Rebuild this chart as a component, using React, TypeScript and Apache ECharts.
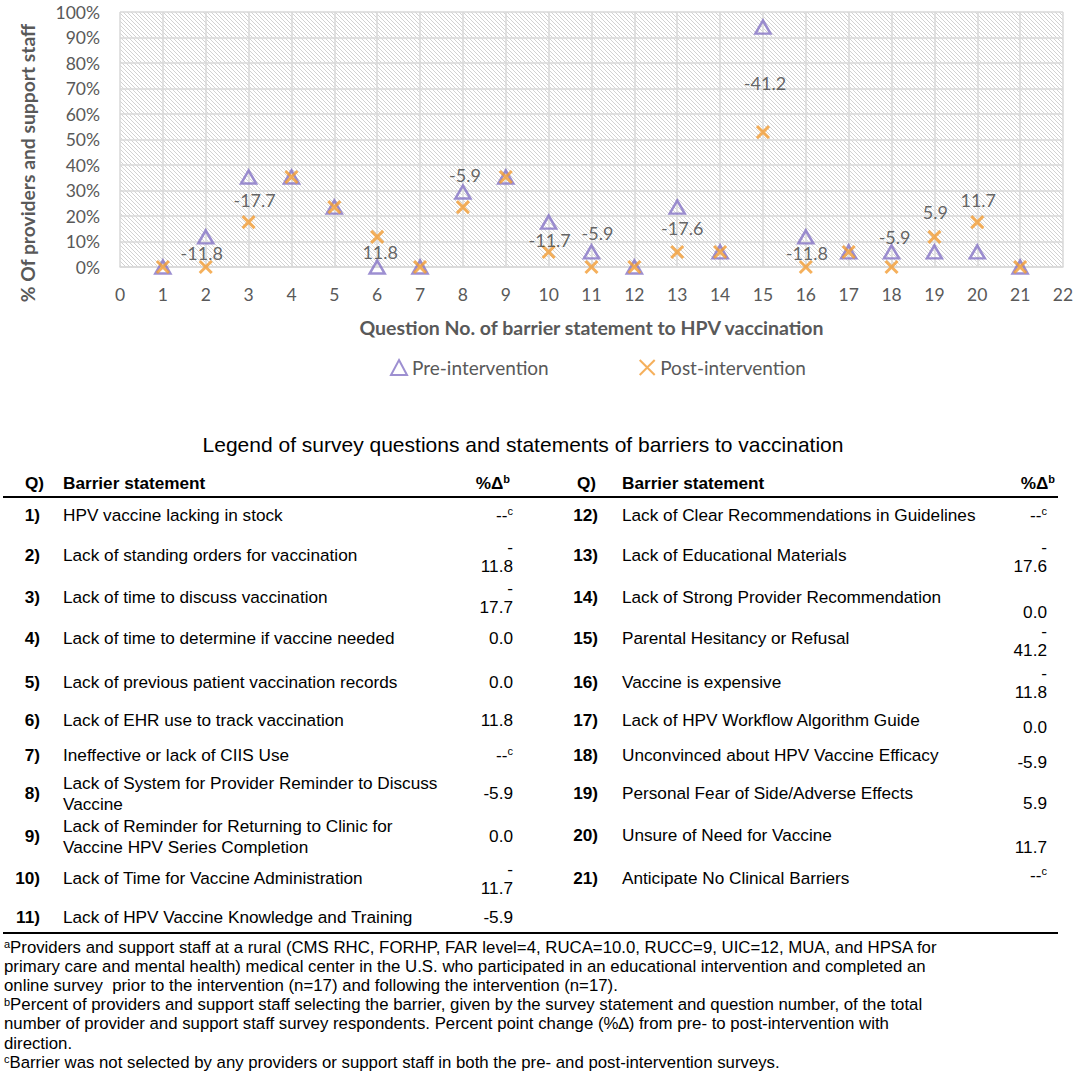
import React, { useEffect, useRef } from "react";
import * as echarts from "echarts";

// ---------------- DATA ----------------
const questionNos = [1, 2, 3, 4, 5, 6, 7, 8, 9, 10, 11, 12, 13, 14, 15, 16, 17, 18, 19, 20, 21];
const prePct = [0, 11.8, 35.3, 35.3, 23.5, 0, 0, 29.4, 35.3, 17.6, 5.9, 0, 23.5, 5.9, 94.1, 11.8, 5.9, 5.9, 5.9, 5.9, 0];
const postPct = [0, 0, 17.6, 35.3, 23.5, 11.8, 0, 23.5, 35.3, 5.9, 0, 0, 5.9, 5.9, 52.9, 0, 5.9, 0, 11.8, 17.6, 0];
// percent point change (null = not selected in either survey)
const pctChange = [null, -11.8, -17.7, 0, 0, 11.8, null, -5.9, 0, -11.7, -5.9, null, -17.6, 0, -41.2, -11.8, 0, -5.9, 5.9, 11.7, null];
const barrierStatements = [
  "HPV vaccine lacking in stock",
  "Lack of standing orders for vaccination",
  "Lack of time to discuss vaccination",
  "Lack of time to determine if vaccine needed",
  "Lack of previous patient vaccination records",
  "Lack of EHR use to track vaccination",
  "Ineffective or lack of CIIS Use",
  "Lack of System for Provider Reminder to Discuss\nVaccine",
  "Lack of Reminder for Returning to Clinic for\nVaccine HPV Series Completion",
  "Lack of Time for Vaccine Administration",
  "Lack of HPV Vaccine Knowledge and Training",
  "Lack of Clear Recommendations in Guidelines",
  "Lack of Educational Materials",
  "Lack of Strong Provider Recommendation",
  "Parental Hesitancy or Refusal",
  "Vaccine is expensive",
  "Lack of HPV Workflow Algorithm Guide",
  "Unconvinced about HPV Vaccine Efficacy",
  "Personal Fear of Side/Adverse Effects",
  "Unsure of Need for Vaccine",
  "Anticipate No Clinical Barriers",
];
const seriesNames = ["Pre-intervention", "Post-intervention"];
const xAxisTitle = "Question No. of barrier statement to HPV vaccination";
const yAxisTitle = "% Of providers and support staff";
const tableTitle = "Legend of survey questions and statements of barriers to vaccination";
const tableHeaders = ["Q)", "Barrier statement", "%Δ{sup|b}"];
const footnoteLines = [
  "{sup|a}Providers and support staff at a rural (CMS RHC, FORHP, FAR level=4, RUCA=10.0, RUCC=9, UIC=12, MUA, and HPSA for",
  "primary care and mental health) medical center in the U.S. who participated in an educational intervention and completed an",
  "online survey  prior to the intervention (n=17) and following the intervention (n=17).",
  "{sup|b}Percent of providers and support staff selecting the barrier, given by the survey statement and question number, of the total",
  "number of provider and support staff survey respondents. Percent point change (%∆) from pre- to post-intervention with",
  "direction.",
  "{sup|c}Barrier was not selected by any providers or support staff in both the pre- and post-intervention surveys.",
];

// ---------------- LAYOUT / STYLE ----------------
const GRID = { left: 120, top: 12, width: 943, height: 255 };
const HATCH_STEP = 4;
const PURPLE = "#8573c6";
const ORANGE = "#f39c33";
const AXIS_TEXT = "#595959";
const CHART_FONT = "Lato, 'Noto Sans', sans-serif";
const TABLE_FONT = "'Liberation Sans', Arial, sans-serif";
const TABLE_SIZE = 17.2;
const FOOT_SIZE = 16.8;
// pixel offsets of the change labels relative to the post-intervention marker
const LABEL_OFFSETS: Record<number, [number, number]> = {
  2: [-4, -14], 3: [6, -22], 6: [3, 15], 8: [2, -32], 10: [1, -12], 11: [6, -34],
  13: [5, -24], 15: [2, -49], 16: [1, -14], 18: [3, -30], 19: [1, -25], 20: [1, -22],
};
const ROW_TEXT_Y = [515, 555, 597, 638, 682, 720, 755, 793, 836, 878, 917, 515, 555, 597, 638, 682, 720, 755, 793, 835, 878];
const ROW_VALUE_Y = [515, 556, 597, 638, 682, 720, 755, 793, 836, 878, 917, 515, 556, 612, 640, 682, 727, 762, 803, 847, 875];
const COLS = [
  { qRight: 40, textX: 63, valueRight: 513, headQ: 25, headVal: 510 },
  { qRight: 598, textX: 622, valueRight: 1047, headQ: 577, headVal: 1055 },
];
const FOOT_Y0 = 947;
const FOOT_LINE_H = 19.2;

function formatChange(v: number | null): string {
  if (v === null) return "--{sup|c}";
  if (v < 0 && Math.abs(v) >= 10) return "-\n" + Math.abs(v).toFixed(1);
  return v.toFixed(1);
}

const supRich = {
  sup: { fontSize: 11, fontFamily: TABLE_FONT, fill: "#000", verticalAlign: "top", lineHeight: 12 },
};

function buildGraphics() {
  const els: any[] = [];
  // hatch pattern of the plot area
  const x0 = GRID.left, y0 = GRID.top, x1 = GRID.left + GRID.width, y1 = GRID.top + GRID.height;
  for (let c = y0 - x1; c <= y1 - x0; c += HATCH_STEP) {
    const xs = Math.max(x0, y0 - c);
    const xe = Math.min(x1, y1 - c);
    if (xe > xs) {
      els.push({
        type: "line", z: -10, silent: true,
        shape: { x1: xs, y1: xs + c, x2: xe, y2: xe + c },
        style: { stroke: "#d2d2d2", lineWidth: 1 },
      });
    }
  }
  // y axis title
  els.push({
    type: "text", x: 27, y: 163, rotation: Math.PI / 2,
    style: { text: yAxisTitle, fontFamily: CHART_FONT, fontWeight: "bold", fontSize: 19.3, fill: AXIS_TEXT, align: "center", verticalAlign: "middle" },
  });
  // table title
  els.push({
    type: "text", x: 523, y: 444,
    style: { text: tableTitle, fontFamily: TABLE_FONT, fontSize: 21, fill: "#000", align: "center", verticalAlign: "middle" },
  });
  // headers
  COLS.forEach((col) => {
    els.push({ type: "text", x: col.headQ, y: 483, style: { text: tableHeaders[0], fontFamily: TABLE_FONT, fontWeight: "bold", fontSize: TABLE_SIZE, fill: "#000", align: "left", verticalAlign: "middle" } });
    els.push({ type: "text", x: col.textX, y: 483, style: { text: tableHeaders[1], fontFamily: TABLE_FONT, fontWeight: "bold", fontSize: TABLE_SIZE, fill: "#000", align: "left", verticalAlign: "middle" } });
    els.push({ type: "text", x: col.headVal, y: 483, style: { text: tableHeaders[2], fontFamily: TABLE_FONT, fontWeight: "bold", fontSize: TABLE_SIZE, lineHeight: 20, fill: "#000", align: "right", verticalAlign: "middle", rich: { sup: { ...supRich.sup, fontWeight: "bold" } } } });
  });
  // rules
  els.push({ type: "line", shape: { x1: 3, y1: 497, x2: 1058, y2: 497 }, style: { stroke: "#000", lineWidth: 2 } });
  els.push({ type: "line", shape: { x1: 3, y1: 933, x2: 1058, y2: 933 }, style: { stroke: "#000", lineWidth: 2 } });
  // rows
  questionNos.forEach((q, i) => {
    const col = COLS[i < 11 ? 0 : 1];
    els.push({ type: "text", x: col.qRight, y: ROW_TEXT_Y[i], style: { text: q + ")", fontFamily: TABLE_FONT, fontWeight: "bold", fontSize: TABLE_SIZE, fill: "#000", align: "right", verticalAlign: "middle" } });
    els.push({ type: "text", x: col.textX, y: ROW_TEXT_Y[i], style: { text: barrierStatements[i], fontFamily: TABLE_FONT, fontSize: TABLE_SIZE, lineHeight: 21, fill: "#000", align: "left", verticalAlign: "middle" } });
    els.push({ type: "text", x: col.valueRight, y: ROW_VALUE_Y[i], style: { text: formatChange(pctChange[i]), fontFamily: TABLE_FONT, fontSize: TABLE_SIZE, lineHeight: 19, fill: "#000", align: "right", verticalAlign: "middle", rich: supRich } });
  });
  // footnotes
  footnoteLines.forEach((line, i) => {
    els.push({
      type: "text", x: 4, y: FOOT_Y0 + i * FOOT_LINE_H,
      style: {
        text: line, fontFamily: TABLE_FONT, fontSize: FOOT_SIZE, lineHeight: 17,
        fill: "#000", align: "left", verticalAlign: "middle",
        rich: { sup: { ...supRich.sup, lineHeight: 11 } },
      },
    });
  });
  return els;
}

export default function App() {
  const ref = useRef<HTMLDivElement>(null);
  useEffect(() => {
    document.body.style.margin = "0";
    if (!ref.current) return;
    const chart = echarts.init(ref.current, undefined, { renderer: "svg" });
    chart.setOption({
      animation: false,
      backgroundColor: "#fff",
      grid: { left: GRID.left, top: GRID.top, width: GRID.width, height: GRID.height, containLabel: false },
      legend: {
        left: 385, top: 353, itemWidth: 16, itemHeight: 15, itemGap: 90,
        textStyle: { fontFamily: CHART_FONT, fontSize: 19, color: AXIS_TEXT },
        data: seriesNames,
      },
      xAxis: {
        type: "value", min: 0, max: 22, interval: 1,
        axisLine: { show: true, lineStyle: { color: "#d9d9d9", width: 1.5 } },
        axisTick: { show: false },
        axisLabel: { color: AXIS_TEXT, fontSize: 17.5, fontFamily: CHART_FONT, margin: 18 },
        splitLine: { show: true, lineStyle: { color: "#d9d9d9", width: 1.5 } },
        name: xAxisTitle, nameLocation: "middle", nameGap: 50,
        nameTextStyle: { fontFamily: CHART_FONT, fontWeight: "bold", fontSize: 19.5, color: AXIS_TEXT },
      },
      yAxis: {
        type: "value", min: 0, max: 100, interval: 10,
        axisLine: { show: false },
        axisTick: { show: false },
        axisLabel: { color: AXIS_TEXT, fontSize: 17.5, fontFamily: CHART_FONT, margin: 20, formatter: "{value}%" },
        splitLine: { show: true, lineStyle: { color: "#d9d9d9", width: 1.5 } },
      },
      series: [
        {
          name: seriesNames[0], type: "scatter", symbol: "triangle", symbolSize: [15, 13], z: 3,
          itemStyle: { color: "transparent", borderColor: PURPLE, borderWidth: 2.5 },
          data: questionNos.map((q, i) => [q, prePct[i]]),
        },
        {
          name: seriesNames[1], type: "scatter", symbol: "path://M0,0L10,10M10,0L0,10", symbolSize: 12, z: 4,
          itemStyle: { color: "transparent", borderColor: ORANGE, borderWidth: 3 },
          label: { position: "inside", color: "#404040", fontSize: 18, fontFamily: CHART_FONT },
          data: questionNos.map((q, i) => {
            const d = pctChange[i];
            const off = LABEL_OFFSETS[q];
            return {
              value: [q, postPct[i]],
              label: d !== null && d !== 0 && off
                ? { show: true, formatter: d.toFixed(1), offset: off }
                : { show: false },
            };
          }),
        },
      ],
      graphic: buildGraphics(),
    });
    return () => chart.dispose();
  }, []);
  return <div ref={ref} style={{ width: 1084, height: 1086 }} />;
}
